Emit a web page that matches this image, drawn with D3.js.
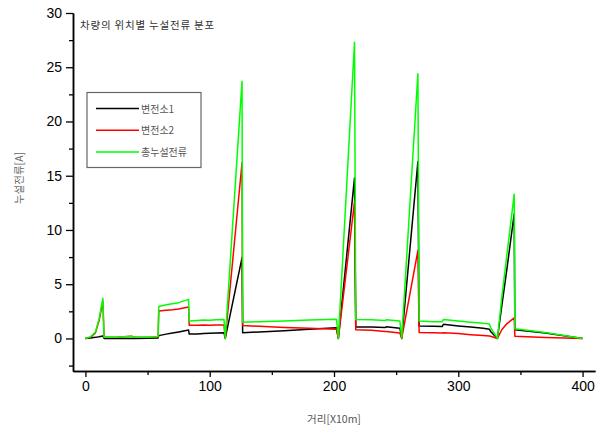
<!DOCTYPE html>
<html>
<head>
<meta charset="utf-8">
<script src="https://cdn.jsdelivr.net/npm/d3@7"></script>
<style>
  html, body { margin: 0; padding: 0; background: #fff; }
  svg { display: block; }
</style>
</head>
<body>
<svg id="chart" width="607" height="428"></svg>
<script>
// Distance along the line [x10 m]
const distance = [0, 4, 8, 11, 14, 15, 25, 37, 40, 50, 58.5, 59, 65, 70, 75, 83, 83.5, 90, 95, 100, 105, 111.5, 112.5,
  126, 126.5, 140, 160, 180, 202, 203.5, 216.5, 217.5, 230, 241, 242, 253, 254.5, 267.5, 268.5, 280, 287, 288,
  300, 310, 320, 325, 326, 331.5, 335, 339, 345, 345.5, 370, 400];

// Leakage current from substation 1 [A]
const substation1 = [0, 0.05, 0.1, 0.15, 0.22, 0, 0, 0, 0, 0.02, 0.05, 0.26, 0.4, 0.5, 0.6, 0.78, 0.4, 0.42, 0.45, 0.47, 0.5, 0.53, 0,
  7.45, 0.53, 0.6, 0.72, 0.85, 0.98, 0, 14.8, 1.05, 1.05, 1.0, 1.07, 0.95, 0, 16.3, 1.15, 1.12, 1.1, 1.3,
  1.15, 1.05, 0.95, 0.85, 0.65, 0, 3.0, 6.3, 11.5, 0.8, 0.5, 0];

// Leakage current from substation 2 [A]
const substation2 = [0, 0.1, 0.5, 1.65, 3.45, 0.1, 0.1, 0.2, 0.12, 0.1, 0.13, 2.53, 2.6, 2.65, 2.72, 2.9, 1.22, 1.22, 1.25, 1.22, 1.24, 1.23, 0,
  16.2, 1.2, 1.12, 1.02, 0.95, 0.85, 0, 12.6, 0.8, 0.75, 0.65, 0.65, 0.5, 0, 8.1, 0.55, 0.52, 0.5, 0.52,
  0.45, 0.35, 0.27, 0.22, 0.2, 0, 0.8, 1.35, 1.9, 0.2, 0.08, 0];

// Total leakage current [A]
const totalCurrent = [0, 0.15, 0.6, 1.8, 3.7, 0.1, 0.1, 0.2, 0.12, 0.12, 0.18, 2.95, 3.1, 3.2, 3.3, 3.6, 1.6, 1.65, 1.7, 1.68, 1.72, 1.75, 0,
  23.7, 1.5, 1.55, 1.62, 1.7, 1.78, 0, 27.3, 1.75, 1.72, 1.65, 1.72, 1.6, 0.05, 24.4, 1.6, 1.55, 1.55, 1.75,
  1.6, 1.5, 1.4, 1.33, 1.0, 0, 3.8, 7.6, 13.3, 0.9, 0.55, 0];

const seriesNames = ["변전소1", "변전소2", "총누설전류"];
const seriesColors = ["#000000", "#ff0000", "#00ff00"];
const xTicks = [0, 100, 200, 300, 400];
const yTicks = [0, 5, 10, 15, 20, 25, 30];

const titleText = "차량의 위치별 누설전류 분포";
const xTitle = "거리[X10m]";
const yTitle = "누설전류[A]";

const svg = d3.select("#chart");

const x = d3.scaleLinear().domain([-10, 410]).range([73, 595]);
const y = d3.scaleLinear().domain([-3, 30]).range([371, 13]);

const numFont = "'Liberation Sans', Arial, sans-serif";
const krFont = "'Noto Sans CJK KR', 'Noto Sans', sans-serif";

// Axes
const xAxis = d3.axisBottom(x).tickValues(xTicks).tickSize(6).tickPadding(4).tickSizeOuter(0);
const xMinor = d3.axisBottom(x).tickValues([50, 150, 250, 350]).tickSize(4).tickFormat("").tickSizeOuter(0);
const yAxis = d3.axisLeft(y).tickValues(yTicks).tickSize(7).tickPadding(4).tickSizeOuter(0);
const yMinor = d3.axisLeft(y).tickValues([-2.5, 2.5, 7.5, 12.5, 17.5, 22.5, 27.5]).tickSize(4).tickFormat("").tickSizeOuter(0);

function styleAxis(g) {
  g.select(".domain").attr("stroke", "#000").attr("stroke-width", 1.5);
  g.selectAll(".tick line").attr("stroke", "#000").attr("stroke-width", 1.3);
  g.selectAll(".tick text").attr("font-family", numFont).attr("font-size", 14).attr("fill", "#000");
}

svg.append("g").attr("transform", `translate(0,${y(-3)})`).call(xAxis).call(styleAxis);
svg.append("g").attr("transform", `translate(0,${y(-3)})`).call(xMinor).call(styleAxis);
svg.append("g").attr("transform", `translate(${x(-10)},0)`).call(yAxis).call(styleAxis);
svg.append("g").attr("transform", `translate(${x(-10)},0)`).call(yMinor).call(styleAxis);

// Titles
svg.append("text")
  .attr("x", 80).attr("y", 29)
  .attr("font-family", krFont).attr("font-size", 10.5)
  .attr("letter-spacing", 0.8)
  .attr("fill", "#333")
  .text(titleText);

svg.append("text")
  .attr("x", (x(-10) + x(410)) / 2).attr("y", 423)
  .attr("text-anchor", "middle")
  .attr("font-family", krFont).attr("font-size", 10.5)
  .attr("fill", "#555")
  .text(xTitle);

svg.append("text")
  .attr("transform", `translate(23,178) rotate(-90)`)
  .attr("text-anchor", "middle")
  .attr("font-family", krFont).attr("font-size", 10.5)
  .attr("fill", "#666")
  .text(yTitle);

// Series lines
const seriesData = [substation1, substation2, totalCurrent];
const line = d3.line()
  .x((d, i) => x(distance[i]))
  .y(d => y(d));

seriesData.forEach((vals, k) => {
  svg.append("path")
    .datum(vals)
    .attr("fill", "none")
    .attr("stroke", seriesColors[k])
    .attr("stroke-width", 1.5)
    .attr("stroke-linejoin", "round")
    .attr("d", line);
});

// Legend
const legend = svg.append("g");
legend.append("rect")
  .attr("x", 87).attr("y", 92.5).attr("width", 114).attr("height", 75)
  .attr("fill", "#fff").attr("stroke", "#666").attr("stroke-width", 1.2);

seriesNames.forEach((name, k) => {
  const ly = 108.5 + k * 21.7;
  legend.append("line")
    .attr("x1", 96).attr("x2", 139).attr("y1", ly).attr("y2", ly)
    .attr("stroke", seriesColors[k]).attr("stroke-width", 1.5);
  legend.append("text")
    .attr("x", 141).attr("y", ly + 4)
    .attr("font-family", krFont).attr("font-size", 10)
    .attr("fill", "#555")
    .text(name);
});
</script>
</body>
</html>
